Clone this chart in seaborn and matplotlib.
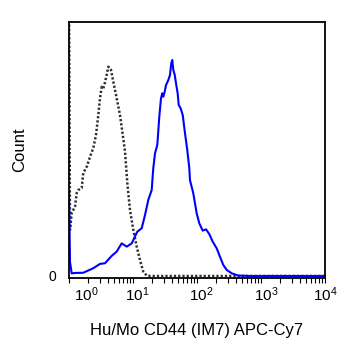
import numpy as np
import pandas as pd
import matplotlib
matplotlib.use("Agg")
import matplotlib.pyplot as plt
import matplotlib.transforms as mtransforms
from matplotlib.ticker import LogLocator, NullFormatter
import seaborn as sns

# Histogram traces on a log10 intensity axis (bin positions in decades, counts in relative units)
stained_log10 = [0.0, 0.0156, 0.042, 0.094, 0.223, 0.380, 0.484, 0.5625, 0.667, 0.745,
                 0.823, 0.902, 0.980, 1.067, 1.136, 1.1875, 1.239, 1.292, 1.317, 1.344,
                 1.380, 1.411, 1.4375, 1.458, 1.473, 1.495, 1.516, 1.552, 1.578, 1.598,
                 1.614, 1.630, 1.652, 1.672, 1.698, 1.714, 1.745, 1.777, 1.8125, 1.848,
                 1.880, 1.890, 1.942, 1.995, 2.036, 2.089, 2.141, 2.192, 2.245, 2.308,
                 2.359, 2.411, 2.464, 2.542, 2.645, 2.83, 3.5, 4.0]
stained_count = [38.9, 6.5, 1.2, 1.4, 1.5, 3.6, 5.6, 5.9, 9.3, 11.3,
                 15.1, 13.6, 15.1, 20.5, 22.1, 28.2, 35.2, 39.8, 49.9, 56.8,
                 60.7, 73.8, 82.3, 84.6, 83.0, 85.3, 88.4, 90.7, 93.1, 98.5,
                 100.0, 95.4, 93.1, 89.2, 84.6, 79.2, 77.6, 74.5, 66.1, 58.3,
                 49.9, 44.4, 38.3, 29.0, 24.4, 21.0, 21.6, 19.4, 15.9, 12.8,
                 8.9, 5.1, 2.8, 1.25, 0.2, 0.0, 0.0, 0.0]

isotype_log10 = [0.0, 0.0156, 0.042, 0.094, 0.120, 0.145, 0.198, 0.223, 0.277, 0.328,
                 0.380, 0.422, 0.458, 0.484, 0.511, 0.536, 0.552, 0.589, 0.614, 0.641,
                 0.656, 0.692, 0.745, 0.797, 0.833, 0.875, 0.911, 0.953, 1.005, 1.058,
                 1.109, 1.161, 1.214, 1.266, 2.5, 4.0]
isotype_count = [130.0, 21.3, 29.2, 32.1, 38.4, 39.8, 40.7, 47.7, 50.6, 55.2,
                 59.3, 65.3, 74.5, 82.3, 87.6, 86.9, 88.4, 93.1, 96.9, 96.3,
                 95.4, 90.0, 82.3, 74.5, 66.8, 57.6, 43.1, 30.6, 21.3, 13.6,
                 7.4, 2.0, 0.2, 0.0, 0.0, 0.0]

tick_exponents = [0, 1, 2, 3, 4]
tick_labels = [f"$10^{{{e}}}$" for e in tick_exponents]
x_label = "Hu/Mo CD44 (IM7) APC-Cy7"
y_label = "Count"

sns.set_theme(style="white")
plt.rcParams["font.family"] = ["Liberation Sans", "DejaVu Sans"]
plt.rcParams["mathtext.fontset"] = "custom"
plt.rcParams["mathtext.rm"] = "Liberation Sans"
plt.rcParams["mathtext.it"] = "Liberation Sans:italic"
plt.rcParams["mathtext.bf"] = "Liberation Sans:bold"

stained = pd.DataFrame({"intensity": np.power(10.0, stained_log10), "count": stained_count})
isotype = pd.DataFrame({"intensity": np.power(10.0, isotype_log10), "count": isotype_count})

fig = plt.figure(figsize=(3.48, 3.6), dpi=100)
ax = fig.add_axes([69 / 348, 1 - 278 / 360, 256 / 348, 256 / 360])

sns.lineplot(data=isotype, x="intensity", y="count", ax=ax, color="#303030",
             linewidth=1.8, linestyle=(0, (0.9, 0.8)), sort=False, estimator=None)
sns.lineplot(data=stained, x="intensity", y="count", ax=ax, color="#0000ff",
             linewidth=1.5, sort=False, estimator=None)

ax.set_xscale("log")
ax.set_xlim(1, 1e4)
ax.set_ylim(-0.93, 117.6)

ax.set_xticks([10.0 ** e for e in tick_exponents])
ax.set_xticklabels(tick_labels, fontsize=11)
ax.xaxis.set_minor_locator(LogLocator(base=10, subs=np.arange(2, 10)))
ax.xaxis.set_minor_formatter(NullFormatter())
ax.tick_params(axis="x", which="both", direction="out", length=3.6, width=0.8,
               color="black", labelcolor="black", pad=1.5, bottom=True)

# nudge decade labels to the right of their ticks
label_shift_px = [17, 4.5, 4, 5, 0]
for lab, dx in zip(ax.get_xticklabels(), label_shift_px):
    lab.set_transform(lab.get_transform() +
                      mtransforms.ScaledTranslation(dx / 100, 0, fig.dpi_scale_trans))

ax.set_yticks([0])
ax.set_yticklabels(["0"], fontsize=10)
ax.tick_params(axis="y", which="both", length=0, pad=9, left=False, labelcolor="black")

for side in ["left", "right", "top", "bottom"]:
    ax.spines[side].set_visible(True)
    ax.spines[side].set_color("black")
    ax.spines[side].set_linewidth(1.3)

ax.set_xlabel(x_label, fontsize=12, color="black")
ax.set_ylabel(y_label, fontsize=12, color="black")
ax.xaxis.set_label_coords(0.5, -0.175)
ax.yaxis.set_label_coords(-0.164, 0.5)
ax.grid(False)
if ax.get_legend() is not None:
    ax.get_legend().remove()

fig.savefig("out.png", dpi=100, facecolor="white")
